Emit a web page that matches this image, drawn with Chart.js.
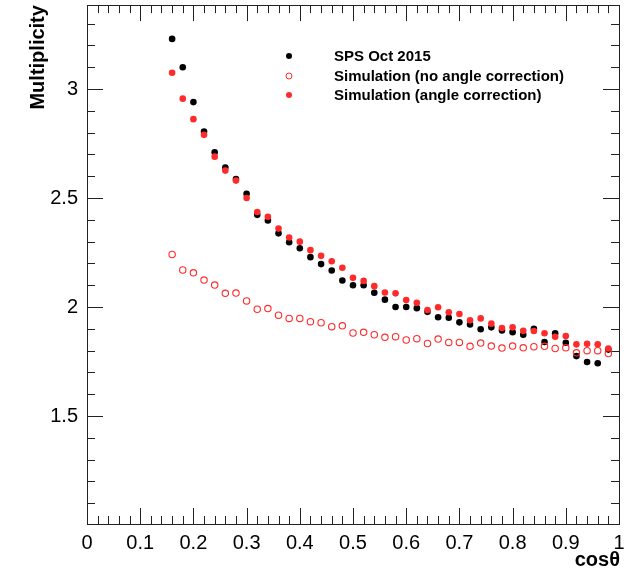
<!DOCTYPE html>
<html>
<head>
<meta charset="utf-8">
<script src="https://cdn.jsdelivr.net/npm/chart.js@4.4.1/dist/chart.umd.min.js"></script>
<style>
  html, body { margin: 0; padding: 0; background: #fff; }
  #wrap { width: 626px; height: 568px; }
</style>
</head>
<body>
<div id="wrap"><canvas id="myChart" width="626" height="568"></canvas></div>
<script>
// cos(theta) bins
const cosTheta = [0.16, 0.18, 0.20, 0.22, 0.24, 0.26, 0.28, 0.30, 0.32, 0.34,
                  0.36, 0.38, 0.40, 0.42, 0.44, 0.46, 0.48, 0.50, 0.52, 0.54,
                  0.56, 0.58, 0.60, 0.62, 0.64, 0.66, 0.68, 0.70, 0.72, 0.74,
                  0.76, 0.78, 0.80, 0.82, 0.84, 0.86, 0.88, 0.90, 0.92, 0.94,
                  0.96, 0.98];

// SPS Oct 2015 data
const spsData = [3.23, 3.10, 2.94, 2.805, 2.71, 2.64, 2.587, 2.52, 2.423, 2.397,
                 2.338, 2.297, 2.27, 2.229, 2.197, 2.168, 2.122, 2.10, 2.10, 2.066,
                 2.034, 2.00, 2.00, 1.995, 1.978, 1.953, 1.951, 1.93, 1.92, 1.898,
                 1.907, 1.893, 1.885, 1.873, 1.90, 1.84, 1.88, 1.836, 1.775, 1.748,
                 1.742, 1.805];

// Simulation without angle correction (open circles)
const simNoCorr = [2.241, 2.17, 2.157, 2.124, 2.101, 2.063, 2.064, 2.028, 1.99, 1.993,
                   1.963, 1.948, 1.948, 1.933, 1.928, 1.91, 1.914, 1.881, 1.884, 1.873,
                   1.861, 1.864, 1.849, 1.855, 1.833, 1.853, 1.838, 1.838, 1.82, 1.835,
                   1.821, 1.812, 1.821, 1.813, 1.818, 1.82, 1.81, 1.813, 1.79, 1.80,
                   1.80, 1.787];

// Simulation with angle correction (filled red)
const simCorr = [3.075, 2.956, 2.862, 2.79, 2.69, 2.626, 2.58, 2.50, 2.436, 2.414,
                 2.36, 2.319, 2.30, 2.261, 2.235, 2.21, 2.18, 2.134, 2.12, 2.096,
                 2.067, 2.063, 2.032, 2.02, 1.986, 1.999, 1.976, 1.968, 1.939, 1.948,
                 1.924, 1.904, 1.907, 1.891, 1.89, 1.88, 1.864, 1.867, 1.829, 1.832,
                 1.829, 1.81];

const xTicks = [0, 0.1, 0.2, 0.3, 0.4, 0.5, 0.6, 0.7, 0.8, 0.9, 1];
const yTicks = [1.5, 2, 2.5, 3];
const seriesNames = ["SPS Oct 2015", "Simulation (no angle correction)", "Simulation (angle correction)"];

const RED = "#ff2b2b";
const FONT = "'Liberation Sans', Arial, Helvetica, sans-serif";

function toPoints(ys) {
    return cosTheta.map((x, i) => ({ x: x, y: ys[i] }));
}
function fmt(v) {
    return String(Number(v.toFixed(2)));
}
// stop Chart.js from shrinking the plot to make room for edge labels
function noEdgePadding(s) {
    s.paddingTop = 0; s.paddingBottom = 0;
    s.paddingLeft = 0; s.paddingRight = 0;
}

// ROOT-like frame with inward ticks on all four sides
const rootFrame = {
    id: "rootFrame",
    beforeDatasetsDraw(chart) {
        const { ctx, chartArea: a, scales } = chart;
        const x = scales.x, y = scales.y;
        ctx.save();
        ctx.strokeStyle = "#222";
        ctx.lineWidth = 1;
        ctx.strokeRect(Math.round(a.left) + 0.5, Math.round(a.top) + 0.5,
                       Math.round(a.right - a.left), Math.round(a.bottom - a.top));
        ctx.beginPath();
        for (let i = 0; i <= 50; i++) {
            const px = Math.round(x.getPixelForValue(i * 0.02)) + 0.5;
            const len = i % 5 === 0 ? 16 : 8;
            ctx.moveTo(px, a.bottom); ctx.lineTo(px, a.bottom - len);
            ctx.moveTo(px, a.top); ctx.lineTo(px, a.top + len);
        }
        for (let k = 11; k <= 33; k++) {
            const py = Math.round(y.getPixelForValue(k / 10)) + 0.5;
            const len = k % 5 === 0 ? 16 : 8;
            ctx.moveTo(a.left, py); ctx.lineTo(a.left + len, py);
            ctx.moveTo(a.right, py); ctx.lineTo(a.right - len, py);
        }
        ctx.stroke();
        ctx.restore();
    },
    afterDraw(chart) {
        const { ctx, chartArea: a } = chart;
        ctx.save();
        ctx.fillStyle = "#000";
        // axis titles
        ctx.font = "bold 20px " + FONT;
        ctx.textAlign = "right";
        ctx.textBaseline = "alphabetic";
        ctx.fillText("cos\u03b8", a.right + 1, 566);
        ctx.translate(44, a.top);
        ctx.rotate(-Math.PI / 2);
        ctx.fillText("Multiplicity", 0, 0);
        ctx.restore();

        // legend
        ctx.save();
        const rows = [56, 76, 95];
        chart.data.datasets.forEach((ds, i) => {
            const my = rows[i];
            ctx.beginPath();
            ctx.arc(289, my, 3, 0, Math.PI * 2);
            if (ds.pointBackgroundColor !== "rgba(0,0,0,0)") {
                ctx.fillStyle = ds.pointBackgroundColor;
                ctx.fill();
            } else {
                ctx.strokeStyle = ds.pointBorderColor;
                ctx.lineWidth = 1;
                ctx.stroke();
            }
            ctx.fillStyle = "#000";
            ctx.font = "bold 15px " + FONT;
            ctx.textAlign = "left";
            ctx.textBaseline = "middle";
            ctx.fillText(ds.label, 334, my + 1);
        });
        ctx.restore();
    }
};

const ctx = document.getElementById("myChart").getContext("2d");
const chart = new Chart(ctx, {
    type: "scatter",
    data: {
        datasets: [
            {
                label: seriesNames[0],
                data: toPoints(spsData),
                pointBackgroundColor: "#000",
                pointBorderColor: "#000",
                pointBorderWidth: 0,
                pointRadius: 3.3,
                order: 3
            },
            {
                label: seriesNames[1],
                data: toPoints(simNoCorr),
                pointBackgroundColor: "rgba(0,0,0,0)",
                pointBorderColor: RED,
                pointBorderWidth: 1.1,
                pointRadius: 3.2,
                order: 2
            },
            {
                label: seriesNames[2],
                data: toPoints(simCorr),
                pointBackgroundColor: RED,
                pointBorderColor: RED,
                pointBorderWidth: 0,
                pointRadius: 3.3,
                order: 1
            }
        ]
    },
    options: {
        responsive: false,
        animation: false,
        layout: { padding: { top: 5, right: 7, left: 0, bottom: 0 } },
        plugins: {
            legend: { display: false },
            tooltip: { enabled: false }
        },
        scales: {
            x: {
                type: "linear",
                min: 0,
                max: 1,
                afterBuildTicks: (s) => { s.ticks = xTicks.map(v => ({ value: v })); },
                afterFit: (s) => { s.height = 44; noEdgePadding(s); },
                grid: { display: false, drawTicks: false },
                border: { display: false },
                ticks: {
                    padding: 7,
                    color: "#000",
                    font: { family: FONT, size: 20 },
                    maxRotation: 0,
                    autoSkip: false,
                    callback: (v) => fmt(v)
                }
            },
            y: {
                type: "linear",
                min: 1.005,
                max: 3.385,
                afterBuildTicks: (s) => { s.ticks = yTicks.map(v => ({ value: v })); },
                afterFit: (s) => { s.width = 87; noEdgePadding(s); },
                grid: { display: false, drawTicks: false },
                border: { display: false },
                ticks: {
                    padding: 9,
                    color: "#000",
                    font: { family: FONT, size: 20 },
                    callback: (v) => fmt(v)
                }
            }
        }
    },
    plugins: [rootFrame]
});
</script>
</body>
</html>
